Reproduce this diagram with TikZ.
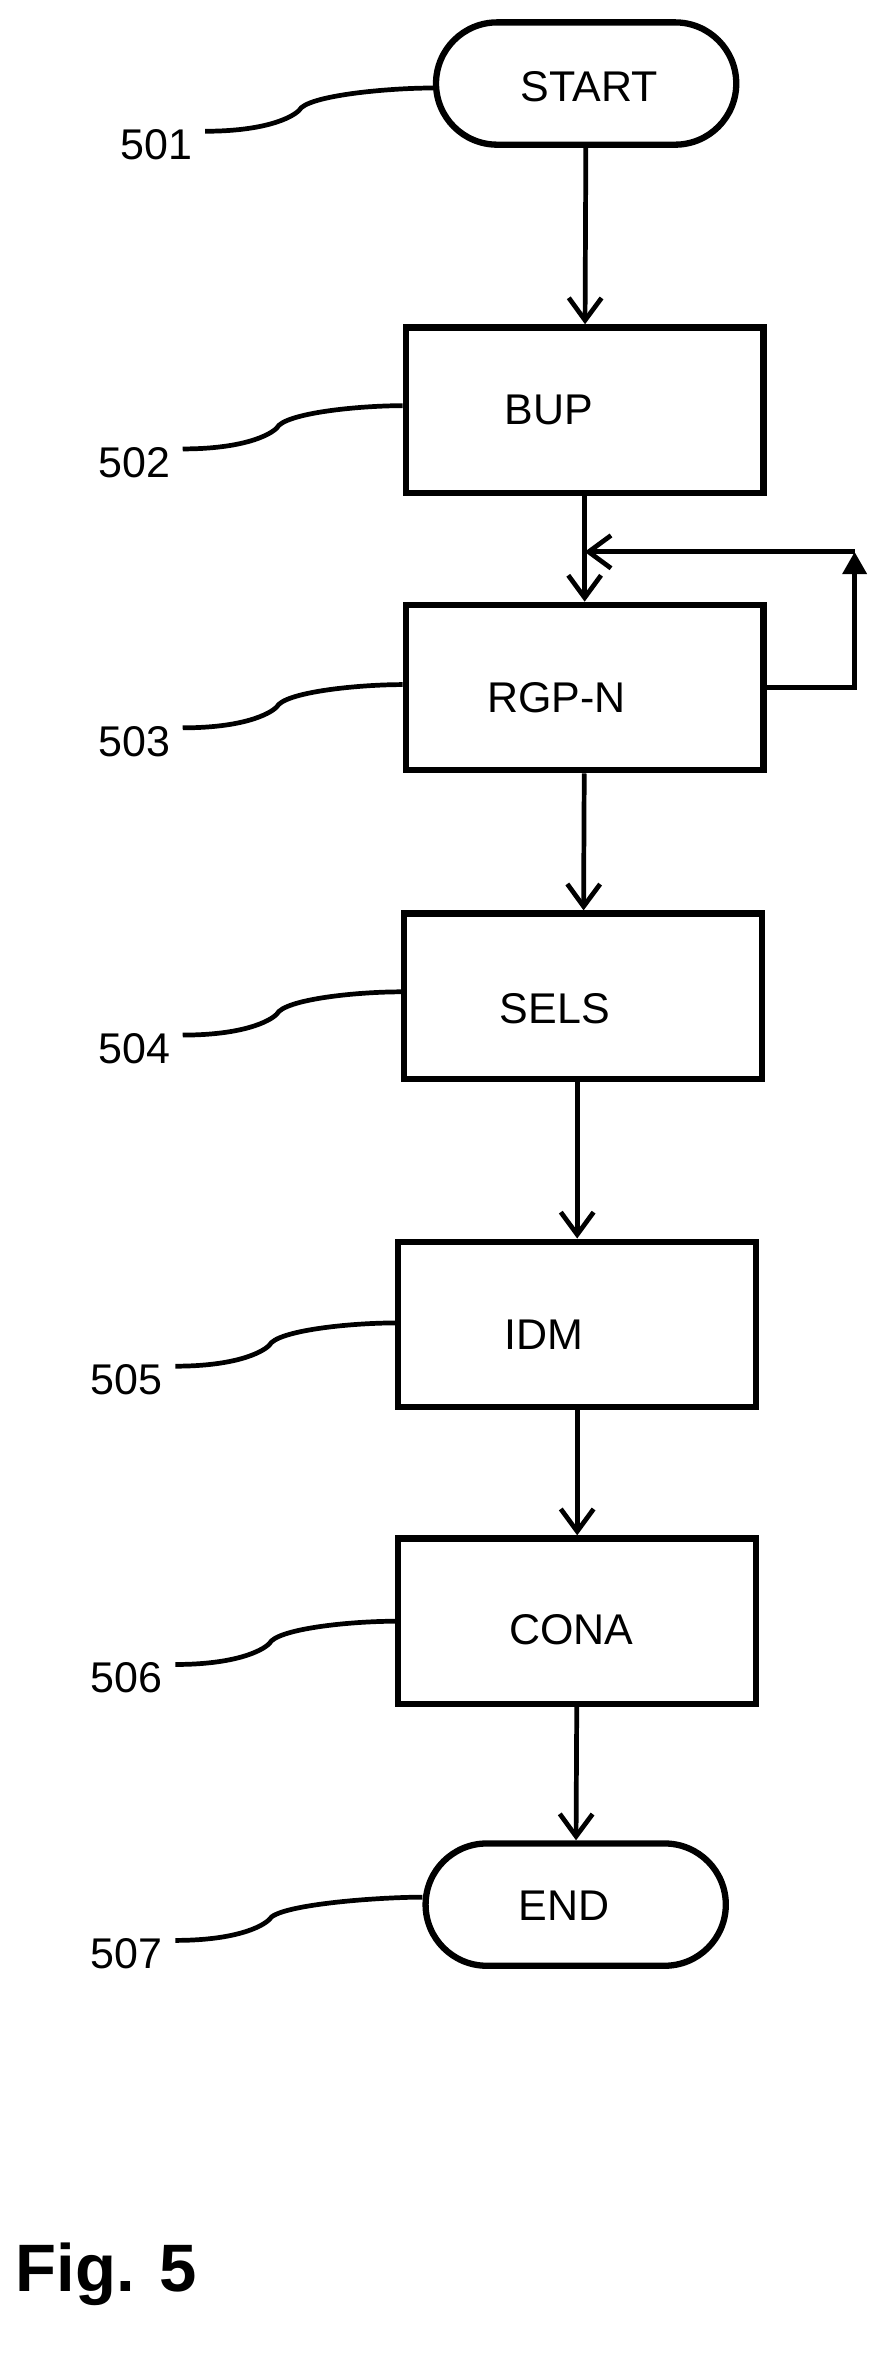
\documentclass[tikz,border=0pt]{standalone}
\usepackage{fontspec}
\setmainfont{Liberation Sans}
\usetikzlibrary{shapes.misc, positioning, arrows.meta, calc}

\begin{document}
\begin{tikzpicture}[x=0.05cm, y=-0.05cm,
    every node/.style={font=\fontsize{41}{47}\selectfont},
    terminal/.style={rounded rectangle, draw=black, line width=6pt, minimum width=10.3cm, minimum height=4.1cm},
    process/.style={rectangle, draw=black, line width=6pt, minimum width=12cm, minimum height=5.55cm},
    arrow/.style={line width=4.5pt, -{Straight Barb[length=0.75cm, width=1.1cm, line width=4.5pt]}},
    leader/.style={line width=4.5pt},
    ref/.style={anchor=center},
]
\useasboundingbox (0,0) rectangle (600,1581);

% Steps
\node (start) [terminal] at (393,56) {};
\node at (395,58) {START};
\node (bup) [process] at (392,275) {};
\node at (368,275) {BUP};
\node (rgp) [process] at (392,461) {};
\node at (373,468) {RGP-N};
\node (sels) [process] at (391,668) {};
\node at (372,676) {SELS};
\node (idm) [process] at (387,888) {};
\node at (365,895) {IDM};
\node (cona) [process] at (387,1087) {};
\node at (383,1093) {CONA};
\node (end) [terminal] at (386,1277) {};
\node at (378,1278) {END};

% Arrows
\draw [arrow] (start) -- (bup);
\draw [arrow] (bup) -- (rgp);
\draw [arrow] (rgp) -- (sels);
\draw [arrow] (sels.south -| idm) -- (idm);
\draw [arrow] (idm) -- (cona);
\draw [arrow] (cona) -- (end);

% Loop back
\coordinate (loopTop) at (573,370);
\draw [line width=4.5pt, -{Triangle[length=0.75cm, width=0.8cm]}] (rgp.east) -| (loopTop);
\draw [arrow] (loopTop) -- (bup.south |- loopTop);

% Reference numbers
\foreach \n/\tgt/\lx/\ly in {501/start/105/97, 502/bup/90/310, 503/rgp/90/497, 504/sels/90/703, 505/idm/85/925, 506/cona/85/1125, 507/end/85/1310}{
  \node (r\n) [ref] at (\lx,\ly) {\n};
  \draw [leader] ($(r\n.east)+(6,-9)$) .. controls +(40,0) and +(-5,5) .. ++(63,-14)
     .. controls +(5,-10) and +(-30,0) .. (\tgt.west |- {$(r\n)+(0,-38)$});
}

\node (fig) [anchor=west, font=\bfseries\fontsize{64}{70}\selectfont] at (8,1525) {Fig. 5};
\end{tikzpicture}
\end{document}
